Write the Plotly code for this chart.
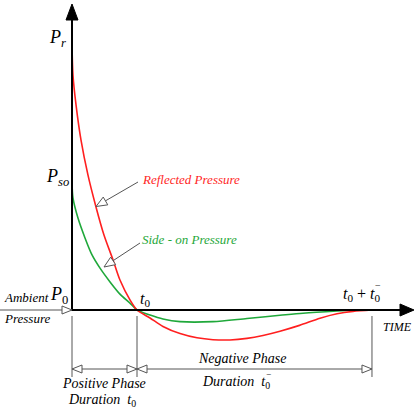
import plotly.graph_objects as go
import math

# ---- data (time in units of t0, pressure in units of Pr) ----
reflected_t = [0, 0.015, 0.062, 0.138, 0.246, 0.369, 0.492, 0.631, 0.738, 0.892, 1.0,
               1.2, 1.4, 1.662, 1.923, 2.169, 2.431, 2.692, 2.938, 3.2, 3.5, 3.815,
               4.077, 4.323, 4.615]
reflected_p = [1.0, 0.887, 0.774, 0.642, 0.509, 0.389, 0.283, 0.189, 0.113, 0.038, 0.0,
               -0.030, -0.062, -0.089, -0.105, -0.112, -0.113, -0.107, -0.096, -0.080,
               -0.058, -0.031, -0.014, -0.005, 0.0]
sideon_t = [0, 0.015, 0.092, 0.2, 0.308, 0.431, 0.585, 0.738, 0.892, 1.0,
            1.2, 1.4, 1.662, 2.169, 2.692, 3.2, 3.554, 4.077, 4.4]
sideon_p = [0.483, 0.423, 0.347, 0.272, 0.208, 0.158, 0.106, 0.060, 0.026, 0.0,
            -0.019, -0.034, -0.044, -0.044, -0.032, -0.020, -0.012, -0.004, 0.0]
T0 = 1.0
T_END = 4.615

RED = "#ff1f1f"
GREEN = "#1fa83a"
GRAY = "#555555"
FONT = "'Liberation Serif', 'Times New Roman', serif"

W, H = 414, 410
X0, SX = 72.0, 65.0
Y0, SY = 310.0, 265.0
def dx(px): return (px - X0) / SX
def dy(py): return (Y0 - py) / SY

fig = go.Figure()
fig.add_trace(go.Scatter(x=sideon_t, y=sideon_p, mode="lines",
                         line=dict(color=GREEN, width=1.6, shape="spline", smoothing=0.8),
                         hoverinfo="skip", showlegend=False))
fig.add_trace(go.Scatter(x=reflected_t, y=reflected_p, mode="lines",
                         line=dict(color=RED, width=1.6, shape="spline", smoothing=0.8),
                         hoverinfo="skip", showlegend=False))

shapes = []
def line_px(x1, y1, x2, y2, color, width):
    shapes.append(dict(type="line", xref="x", yref="y", x0=dx(x1), y0=dy(y1),
                       x1=dx(x2), y1=dy(y2), line=dict(color=color, width=width)))

def head_px(tx, ty, fx, fy, length, half, fill, color, lw=1):
    ux, uy = tx - fx, ty - fy
    n = math.hypot(ux, uy)
    ux, uy = ux / n, uy / n
    bx, by = tx - ux * length, ty - uy * length
    px_, py_ = -uy, ux
    pts = [(tx, ty), (bx + px_ * half, by + py_ * half), (bx - px_ * half, by - py_ * half)]
    path = "M " + " L ".join(f"{dx(a):.5f} {dy(b):.5f}" for a, b in pts) + " Z"
    shapes.append(dict(type="path", xref="x", yref="y", path=path,
                       fillcolor=fill, line=dict(color=color, width=lw)))

line_px(72, 311, 72, 18, "black", 2)
head_px(72, 4, 72, 30, 16, 6, "black", "black")
line_px(71, 310, 402, 310, "black", 2)
head_px(414, 310, 390, 310, 14, 6, "black", "black")
line_px(0, 310, 62, 310, GRAY, 1)
head_px(72, 310, 0, 310, 10, 4, "white", GRAY)

line_px(138, 182, 100, 204, GRAY, 1)
head_px(96, 206.5, 138, 182, 11, 4.5, "white", GRAY)
line_px(140, 243, 108, 264, GRAY, 1)
head_px(104, 267, 140, 243, 11, 4.5, "white", GRAY)

x_t0 = X0 + SX * T0
x_end = X0 + SX * T_END
for xv in (72, x_t0, x_end):
    line_px(xv, 316, xv, 377, GRAY, 1)
yd = 369
line_px(72, yd, x_end, yd, GRAY, 1)
head_px(72, yd, 90, yd, 10, 4, "white", GRAY)
head_px(x_t0, yd, 90, yd, 10, 4, "white", GRAY)
head_px(x_t0, yd, 200, yd, 10, 4, "white", GRAY)
head_px(x_end, yd, 200, yd, 10, 4, "white", GRAY)

fig.update_layout(shapes=shapes)

ann = []
def text_px(x, y, txt, size=13, color="black", xanchor="center"):
    ann.append(dict(x=dx(x), y=dy(y), xref="x", yref="y", text=txt, showarrow=False,
                    xanchor=xanchor, yanchor="middle",
                    font=dict(family=FONT, size=size, color=color)))

text_px(57, 38, "<i>P<sub>r</sub></i>", 18)
text_px(57, 177, "<i>P<sub>so</sub></i>", 18)
text_px(2, 297, "<i>Ambient</i>", 13, xanchor="left")
text_px(48, 295, "<i>P</i><sub>0</sub>", 18, xanchor="left")
text_px(2, 318, "<i>Pressure</i>", 13, xanchor="left")
text_px(145, 299, "<i>t</i><sub>0</sub>", 16)
text_px(383, 294, "<i>t</i><sub>0</sub> + <i>t</i><sub>0</sub>", 16, xanchor="right")
text_px(378, 285, "−", 10)
text_px(414, 327, "<i>TIME</i>", 12, xanchor="right")
text_px(140, 179, "<i>Reflected Pressure</i>", 13, RED, xanchor="left")
text_px(140, 239, "<i>Side - on Pressure</i>", 13, GREEN, xanchor="left")
text_px(104, 383, "<i>Positive Phase</i>", 14)
text_px(102, 400, "<i>Duration</i>  <i>t</i><sub>0</sub>", 14)
text_px(242, 358, "<i>Negative Phase</i>", 14)
text_px(272, 382, "<i>Duration</i>  <i>t</i><sub>0</sub>", 14, xanchor="right")
text_px(268, 374, "−", 9)
fig.update_layout(annotations=ann)

fig.update_layout(
    width=W, height=H, margin=dict(l=0, r=0, t=0, b=0),
    paper_bgcolor="white", plot_bgcolor="white",
    font=dict(family=FONT),
    xaxis=dict(range=[dx(0), dx(W)], visible=False, fixedrange=True),
    yaxis=dict(range=[dy(H), dy(0)], visible=False, fixedrange=True),
    showlegend=False,
)
fig.write_html("out.html", config={"displayModeBar": False})
